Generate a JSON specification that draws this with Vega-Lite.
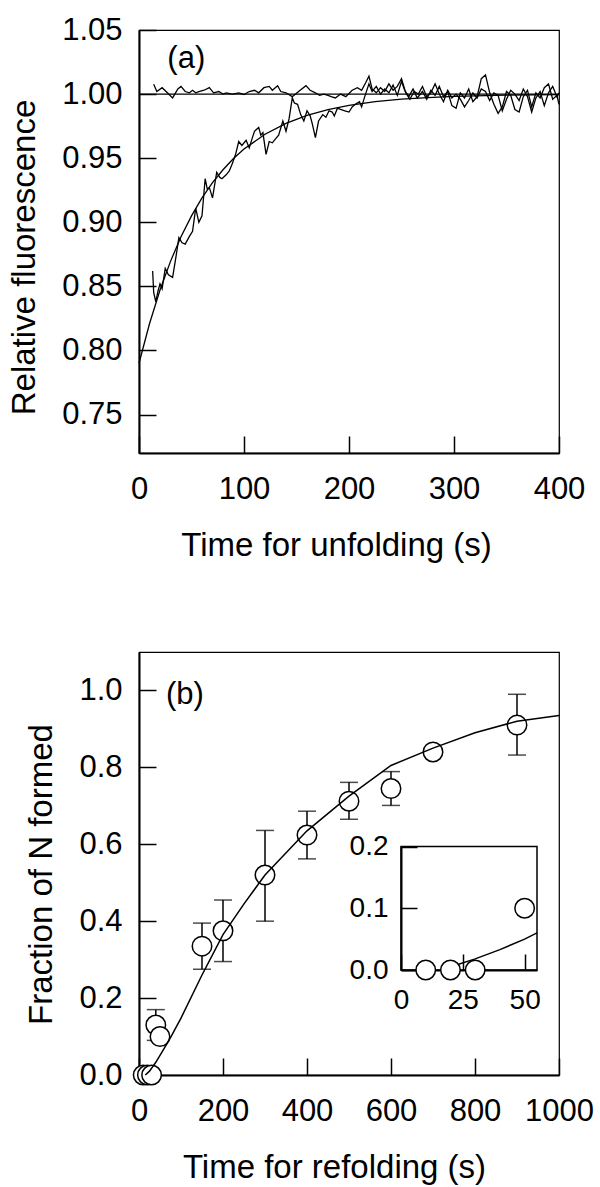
{
  "$schema": "https://vega.github.io/schema/vega-lite/v6.json",
  "background": "white",
  "padding": {"left": 8, "top": 13, "right": 1, "bottom": 5},
  "spacing": 88,
  "config": {
    "font": "Liberation Sans",
    "view": {"stroke": "black", "strokeWidth": 1.2},
    "axis": {
      "domainColor": "black", "domainWidth": 2, "tickColor": "black", "tickWidth": 1.5, "tickSize": -17,
      "labelFontSize": 31, "labelColor": "black", "labelFont": "Liberation Sans",
      "titleFontSize": 33, "titleFontWeight": "normal", "titleColor": "black", "titleFont": "Liberation Sans",
      "grid": false, "labelFlush": false, "labelOverlap": false
    },
    "axisX": {"labelPadding": 38, "titlePadding": 25},
    "axisY": {"labelPadding": 34, "titlePadding": 20}
  },
  "vconcat": [
    {
      "width": 420,
      "height": 423,
      "data": {"values": [
        {"t": 0, "f": 1.0, "s": "h"}, {"t": 400, "f": 1.0, "s": "h"},
        {"t": 0, "f": 0.79, "s": "e"}, {"t": 10, "f": 0.8208, "s": "e"}, {"t": 20, "f": 0.8471, "s": "e"}, {"t": 30, "f": 0.8695, "s": "e"}, {"t": 40, "f": 0.8887, "s": "e"}, {"t": 50, "f": 0.905, "s": "e"}, {"t": 60, "f": 0.919, "s": "e"}, {"t": 70, "f": 0.9309, "s": "e"}, {"t": 80, "f": 0.941, "s": "e"}, {"t": 90, "f": 0.9497, "s": "e"}, {"t": 100, "f": 0.9571, "s": "e"}, {"t": 120, "f": 0.9687, "s": "e"}, {"t": 140, "f": 0.9772, "s": "e"}, {"t": 160, "f": 0.9834, "s": "e"}, {"t": 180, "f": 0.9879, "s": "e"}, {"t": 200, "f": 0.9912, "s": "e"}, {"t": 225, "f": 0.9941, "s": "e"}, {"t": 250, "f": 0.996, "s": "e"}, {"t": 275, "f": 0.9973, "s": "e"}, {"t": 300, "f": 0.9982, "s": "e"}, {"t": 350, "f": 0.9992, "s": "e"}, {"t": 400, "f": 0.9996, "s": "e"},
        {"t": 14, "f": 1.0076, "s": "n"}, {"t": 17, "f": 1.002, "s": "n"}, {"t": 22, "f": 1.005, "s": "n"}, {"t": 27, "f": 1.001, "s": "n"}, {"t": 32, "f": 0.997, "s": "n"}, {"t": 37, "f": 1.004, "s": "n"}, {"t": 40, "f": 1.006, "s": "n"}, {"t": 44, "f": 1.002, "s": "n"}, {"t": 48, "f": 1.001, "s": "n"}, {"t": 51, "f": 1.003, "s": "n"}, {"t": 54, "f": 1.001, "s": "n"}, {"t": 57, "f": 1.002, "s": "n"}, {"t": 62, "f": 1.003, "s": "n"}, {"t": 67, "f": 1.005, "s": "n"}, {"t": 71, "f": 1.001, "s": "n"}, {"t": 76, "f": 1.002, "s": "n"}, {"t": 80, "f": 1.0, "s": "n"}, {"t": 83, "f": 1.001, "s": "n"}, {"t": 89, "f": 1.0, "s": "n"}, {"t": 95, "f": 1.001, "s": "n"}, {"t": 100, "f": 0.9997, "s": "n"}, {"t": 105, "f": 1.002, "s": "n"}, {"t": 110, "f": 1.003, "s": "n"}, {"t": 114, "f": 1.001, "s": "n"}, {"t": 119, "f": 1.005, "s": "n"}, {"t": 124, "f": 1.006, "s": "n"}, {"t": 127, "f": 1.003, "s": "n"}, {"t": 132, "f": 1.0065, "s": "n"}, {"t": 135, "f": 1.002, "s": "n"}, {"t": 140, "f": 1.001, "s": "n"}, {"t": 146, "f": 0.998, "s": "n"}, {"t": 152, "f": 1.002, "s": "n"}, {"t": 159, "f": 1.0066, "s": "n"}, {"t": 163, "f": 1.003, "s": "n"}, {"t": 168, "f": 1.001, "s": "n"}, {"t": 172, "f": 0.999, "s": "n"}, {"t": 176, "f": 1.0, "s": "n"}, {"t": 180, "f": 0.999, "s": "n"}, {"t": 183, "f": 0.998, "s": "n"}, {"t": 187, "f": 0.997, "s": "n"}, {"t": 192, "f": 1.0, "s": "n"}, {"t": 197, "f": 0.998, "s": "n"}, {"t": 203, "f": 1.003, "s": "n"}, {"t": 208, "f": 1.005, "s": "n"},
        {"t": 212, "f": 1.003, "s": "n"}, {"t": 216, "f": 1.009, "s": "n"}, {"t": 219, "f": 1.014, "s": "n"}, {"t": 222, "f": 1.004, "s": "n"}, {"t": 226, "f": 1.001, "s": "n"}, {"t": 230, "f": 1.005, "s": "n"}, {"t": 234, "f": 1.002, "s": "n"}, {"t": 238, "f": 1.008, "s": "n"}, {"t": 242, "f": 1.003, "s": "n"}, {"t": 246, "f": 1.006, "s": "n"}, {"t": 250, "f": 1.012, "s": "n"}, {"t": 254, "f": 1.001, "s": "n"}, {"t": 258, "f": 0.996, "s": "n"}, {"t": 262, "f": 1.002, "s": "n"}, {"t": 266, "f": 1.0, "s": "n"}, {"t": 270, "f": 1.006, "s": "n"}, {"t": 274, "f": 0.998, "s": "n"}, {"t": 278, "f": 1.001, "s": "n"}, {"t": 282, "f": 1.008, "s": "n"}, {"t": 286, "f": 1.0, "s": "n"}, {"t": 290, "f": 0.994, "s": "n"}, {"t": 294, "f": 1.003, "s": "n"}, {"t": 298, "f": 0.997, "s": "n"}, {"t": 302, "f": 1.0, "s": "n"}, {"t": 306, "f": 0.996, "s": "n"}, {"t": 310, "f": 0.99, "s": "n"}, {"t": 314, "f": 0.995, "s": "n"}, {"t": 318, "f": 1.001, "s": "n"}, {"t": 322, "f": 0.997, "s": "n"}, {"t": 326, "f": 1.004, "s": "n"}, {"t": 330, "f": 1.002, "s": "n"}, {"t": 334, "f": 0.995, "s": "n"}, {"t": 338, "f": 1.001, "s": "n"}, {"t": 342, "f": 0.999, "s": "n"}, {"t": 346, "f": 0.987, "s": "n"}, {"t": 350, "f": 0.996, "s": "n"}, {"t": 354, "f": 1.003, "s": "n"}, {"t": 358, "f": 1.0, "s": "n"}, {"t": 362, "f": 0.995, "s": "n"}, {"t": 366, "f": 1.004, "s": "n"}, {"t": 370, "f": 0.998, "s": "n"}, {"t": 374, "f": 0.986, "s": "n"}, {"t": 378, "f": 0.997, "s": "n"}, {"t": 382, "f": 1.002, "s": "n"}, {"t": 386, "f": 0.991, "s": "n"}, {"t": 390, "f": 1.001, "s": "n"}, {"t": 394, "f": 1.006, "s": "n"}, {"t": 398, "f": 0.998, "s": "n"}, {"t": 400, "f": 1.001, "s": "n"},
        {"t": 13, "f": 0.862, "s": "u"}, {"t": 14, "f": 0.845, "s": "u"}, {"t": 16, "f": 0.838, "s": "u"}, {"t": 18, "f": 0.846, "s": "u"}, {"t": 20, "f": 0.852, "s": "u"}, {"t": 22, "f": 0.848, "s": "u"}, {"t": 25, "f": 0.864, "s": "u"}, {"t": 28, "f": 0.859, "s": "u"}, {"t": 32, "f": 0.857, "s": "u"}, {"t": 35, "f": 0.872, "s": "u"}, {"t": 38, "f": 0.888, "s": "u"}, {"t": 41, "f": 0.884, "s": "u"}, {"t": 44, "f": 0.883, "s": "u"}, {"t": 48, "f": 0.889, "s": "u"}, {"t": 51, "f": 0.893, "s": "u"}, {"t": 54, "f": 0.911, "s": "u"}, {"t": 57, "f": 0.9, "s": "u"}, {"t": 60, "f": 0.905, "s": "u"}, {"t": 63, "f": 0.934, "s": "u"}, {"t": 65, "f": 0.926, "s": "u"}, {"t": 67, "f": 0.927, "s": "u"}, {"t": 70, "f": 0.919, "s": "u"}, {"t": 74, "f": 0.939, "s": "u"}, {"t": 77, "f": 0.935, "s": "u"}, {"t": 79, "f": 0.934, "s": "u"}, {"t": 83, "f": 0.937, "s": "u"}, {"t": 86, "f": 0.94, "s": "u"}, {"t": 89, "f": 0.946, "s": "u"}, {"t": 92, "f": 0.953, "s": "u"}, {"t": 95, "f": 0.963, "s": "u"}, {"t": 98, "f": 0.96, "s": "u"}, {"t": 102, "f": 0.964, "s": "u"}, {"t": 105, "f": 0.958, "s": "u"}, {"t": 108, "f": 0.966, "s": "u"}, {"t": 110, "f": 0.971, "s": "u"}, {"t": 114, "f": 0.974, "s": "u"}, {"t": 116, "f": 0.968, "s": "u"}, {"t": 118, "f": 0.97, "s": "u"}, {"t": 121, "f": 0.953, "s": "u"}, {"t": 124, "f": 0.963, "s": "u"}, {"t": 127, "f": 0.962, "s": "u"}, {"t": 130, "f": 0.965, "s": "u"}, {"t": 133, "f": 0.968, "s": "u"}, {"t": 137, "f": 0.979, "s": "u"}, {"t": 140, "f": 0.971, "s": "u"}, {"t": 143, "f": 0.981, "s": "u"}, {"t": 146, "f": 0.997, "s": "u"}, {"t": 148, "f": 0.993, "s": "u"}, {"t": 151, "f": 0.992, "s": "u"}, {"t": 154, "f": 0.984, "s": "u"}, {"t": 157, "f": 0.979, "s": "u"}, {"t": 160, "f": 0.987, "s": "u"}, {"t": 163, "f": 0.983, "s": "u"}, {"t": 165, "f": 0.977, "s": "u"}, {"t": 168, "f": 0.966, "s": "u"}, {"t": 171, "f": 0.979, "s": "u"}, {"t": 175, "f": 0.984, "s": "u"}, {"t": 178, "f": 0.982, "s": "u"}, {"t": 181, "f": 0.987, "s": "u"}, {"t": 184, "f": 0.986, "s": "u"}, {"t": 186, "f": 0.983, "s": "u"}, {"t": 189, "f": 0.989, "s": "u"}, {"t": 192, "f": 0.988, "s": "u"}, {"t": 196, "f": 0.987, "s": "u"}, {"t": 200, "f": 0.986, "s": "u"}, {"t": 203, "f": 0.99, "s": "u"}, {"t": 206, "f": 0.992, "s": "u"}, {"t": 210, "f": 0.994, "s": "u"}, {"t": 212, "f": 0.99, "s": "u"},
        {"t": 215, "f": 0.998, "s": "u"}, {"t": 219, "f": 1.008, "s": "u"}, {"t": 222, "f": 1.002, "s": "u"}, {"t": 226, "f": 1.006, "s": "u"}, {"t": 230, "f": 1.0, "s": "u"}, {"t": 234, "f": 1.004, "s": "u"}, {"t": 238, "f": 1.001, "s": "u"}, {"t": 242, "f": 1.007, "s": "u"}, {"t": 246, "f": 0.999, "s": "u"}, {"t": 250, "f": 1.01, "s": "u"}, {"t": 253, "f": 1.003, "s": "u"}, {"t": 257, "f": 0.998, "s": "u"}, {"t": 261, "f": 1.004, "s": "u"}, {"t": 265, "f": 0.997, "s": "u"}, {"t": 270, "f": 1.002, "s": "u"}, {"t": 274, "f": 0.996, "s": "u"}, {"t": 278, "f": 1.003, "s": "u"}, {"t": 282, "f": 0.999, "s": "u"}, {"t": 286, "f": 1.006, "s": "u"}, {"t": 290, "f": 0.998, "s": "u"}, {"t": 294, "f": 1.002, "s": "u"}, {"t": 298, "f": 0.991, "s": "u"}, {"t": 302, "f": 0.989, "s": "u"}, {"t": 306, "f": 1.001, "s": "u"}, {"t": 310, "f": 0.997, "s": "u"}, {"t": 314, "f": 1.004, "s": "u"}, {"t": 318, "f": 0.994, "s": "u"}, {"t": 322, "f": 0.998, "s": "u"}, {"t": 326, "f": 1.012, "s": "u"}, {"t": 330, "f": 1.015, "s": "u"}, {"t": 334, "f": 1.001, "s": "u"}, {"t": 338, "f": 0.992, "s": "u"}, {"t": 342, "f": 0.985, "s": "u"}, {"t": 346, "f": 0.99, "s": "u"}, {"t": 350, "f": 1.002, "s": "u"}, {"t": 354, "f": 0.999, "s": "u"}, {"t": 358, "f": 0.988, "s": "u"}, {"t": 362, "f": 0.986, "s": "u"}, {"t": 366, "f": 0.998, "s": "u"}, {"t": 370, "f": 1.003, "s": "u"}, {"t": 374, "f": 0.99, "s": "u"}, {"t": 378, "f": 1.001, "s": "u"}, {"t": 382, "f": 0.997, "s": "u"}, {"t": 386, "f": 1.005, "s": "u"}, {"t": 390, "f": 1.008, "s": "u"}, {"t": 394, "f": 0.996, "s": "u"}, {"t": 398, "f": 0.999, "s": "u"}, {"t": 400, "f": 0.992, "s": "u"}
      ]},
      "layer": [
        {
          "mark": {"type": "line", "color": "black", "strokeWidth": 1.3},
          "encoding": {
            "x": {"field": "t", "type": "quantitative", "scale": {"domain": [0, 400], "nice": false},
              "axis": {"title": "Time for unfolding (s)", "values": [0, 100, 200, 300, 400], "titleX": 197}},
            "y": {"field": "f", "type": "quantitative", "scale": {"domain": [0.72, 1.05], "nice": false, "zero": false},
              "axis": {"title": "Relative fluorescence", "values": [0.75, 0.8, 0.85, 0.9, 0.95, 1.0, 1.05], "format": ".2f", "titleY": 227}},
            "detail": {"field": "s", "type": "nominal"}
          }
        },
        {
          "data": {"values": [{"label": "(a)"}]},
          "mark": {"type": "text", "fontSize": 31, "align": "left", "baseline": "middle", "font": "Liberation Sans", "color": "black"},
          "encoding": {
            "x": {"datum": 27, "type": "quantitative"},
            "y": {"datum": 1.027, "type": "quantitative"},
            "text": {"field": "label"}
          }
        }
      ]
    },
    {
      "width": 420,
      "height": 423,
      "layer": [
        {
          "layer": [
            {
              "data": {"name": "pts"},
              "mark": {"type": "rule", "color": "black", "strokeWidth": 1.5},
              "encoding": {
                "x": {"field": "t", "type": "quantitative", "scale": {"domain": [0, 1000], "nice": false},
                  "axis": {"title": "Time for refolding (s)", "values": [0, 200, 400, 600, 800, 1000], "format": "d", "titleX": 195}},
                "y": {"field": "lo", "type": "quantitative", "scale": {"domain": [0, 1.1], "nice": false},
                  "axis": {"title": "Fraction of N formed", "values": [0, 0.2, 0.4, 0.6, 0.8, 1.0], "format": ".1f", "titleY": 222}},
                "y2": {"field": "hi"}
              }
            },
            {
              "data": {"name": "pts"},
              "mark": {"type": "tick", "orient": "horizontal", "color": "black", "size": 18, "thickness": 1.5},
              "encoding": {
                "x": {"field": "t", "type": "quantitative"},
                "y": {"field": "hi", "type": "quantitative"}
              }
            },
            {
              "data": {"name": "pts"},
              "mark": {"type": "tick", "orient": "horizontal", "color": "black", "size": 18, "thickness": 1.5},
              "encoding": {
                "x": {"field": "t", "type": "quantitative"},
                "y": {"field": "lo", "type": "quantitative"}
              }
            },
            {
              "data": {"name": "pts"},
              "mark": {"type": "point", "shape": "circle", "filled": true, "fill": "white", "stroke": "black", "strokeWidth": 1.5, "size": 380, "opacity": 1},
              "encoding": {
                "x": {"field": "t", "type": "quantitative"},
                "y": {"field": "v", "type": "quantitative"}
              }
            },
            {
              "data": {"name": "fit"},
              "mark": {"type": "line", "color": "black", "strokeWidth": 1.5},
              "encoding": {
                "x": {"field": "t", "type": "quantitative"},
                "y": {"field": "v", "type": "quantitative"}
              }
            },
            {
              "data": {"values": [{"label": "(b)"}]},
              "mark": {"type": "text", "fontSize": 31, "align": "left", "baseline": "middle", "font": "Liberation Sans", "color": "black"},
              "encoding": {
                "x": {"datum": 64, "type": "quantitative"},
                "y": {"datum": 0.987, "type": "quantitative"},
                "text": {"field": "label"}
              }
            }
          ]
        },
        {
          "layer": [
            {
              "data": {"values": [{"label": "frame"}]},
              "mark": {"type": "rect", "filled": false, "stroke": "black", "strokeWidth": 1.5},
              "encoding": {
                "x": {"datum": 0, "type": "quantitative", "scale": {"domain": [0, 55], "range": [262, 398], "nice": false},
                  "axis": {"orient": "bottom", "offset": -105, "values": [0, 25, 50], "title": null, "labelFontSize": 28, "tickSize": -16, "labelPadding": 32}},
                "x2": {"datum": 55},
                "y": {"datum": 0, "type": "quantitative", "scale": {"domain": [0, 0.2], "range": [318, 194.5], "nice": false},
                  "axis": {"orient": "left", "offset": -262, "values": [0, 0.1, 0.2], "format": ".1f", "title": null, "labelFontSize": 28, "tickSize": -16, "labelPadding": 29}},
                "y2": {"datum": 0.2}
              }
            },
            {
              "data": {"name": "insetfit"},
              "mark": {"type": "line", "color": "black", "strokeWidth": 1.5},
              "encoding": {
                "x": {"field": "t", "type": "quantitative"},
                "y": {"field": "v", "type": "quantitative"}
              }
            },
            {
              "data": {"name": "insetpts"},
              "mark": {"type": "point", "shape": "circle", "filled": true, "fill": "white", "stroke": "black", "strokeWidth": 1.5, "size": 380, "opacity": 1},
              "encoding": {
                "x": {"field": "t", "type": "quantitative"},
                "y": {"field": "v", "type": "quantitative"}
              }
            }
          ]
        }
      ],
      "resolve": {"scale": {"x": "independent", "y": "independent"}, "axis": {"x": "independent", "y": "independent"}}
    }
  ],
  "datasets": {
    "pts": [
      {"t": 10, "v": 0.0, "lo": null, "hi": null},
      {"t": 20, "v": 0.0, "lo": null, "hi": null},
      {"t": 30, "v": 0.0, "lo": null, "hi": null},
      {"t": 40, "v": 0.13, "lo": 0.09, "hi": 0.17},
      {"t": 50, "v": 0.10, "lo": null, "hi": null},
      {"t": 150, "v": 0.335, "lo": 0.275, "hi": 0.395},
      {"t": 200, "v": 0.375, "lo": 0.295, "hi": 0.455},
      {"t": 300, "v": 0.52, "lo": 0.40, "hi": 0.636},
      {"t": 400, "v": 0.624, "lo": 0.562, "hi": 0.686},
      {"t": 500, "v": 0.712, "lo": 0.665, "hi": 0.761},
      {"t": 600, "v": 0.745, "lo": 0.701, "hi": 0.789},
      {"t": 700, "v": 0.84, "lo": null, "hi": null},
      {"t": 900, "v": 0.91, "lo": 0.832, "hi": 0.99}
    ],
    "fit": [
      {"t": 15, "v": 0.0}, {"t": 25, "v": 0.01}, {"t": 40, "v": 0.033}, {"t": 55, "v": 0.06}, {"t": 75, "v": 0.097}, {"t": 100, "v": 0.148}, {"t": 150, "v": 0.26}, {"t": 200, "v": 0.365}, {"t": 250, "v": 0.445}, {"t": 300, "v": 0.52}, {"t": 400, "v": 0.635}, {"t": 500, "v": 0.725}, {"t": 600, "v": 0.805}, {"t": 700, "v": 0.85}, {"t": 800, "v": 0.89}, {"t": 900, "v": 0.92}, {"t": 1000, "v": 0.935}
    ],
    "insetfit": [
      {"t": 23, "v": 0.009}, {"t": 30, "v": 0.018}, {"t": 40, "v": 0.033}, {"t": 50, "v": 0.05}, {"t": 55, "v": 0.06}
    ],
    "insetpts": [
      {"t": 10, "v": 0.0}, {"t": 20, "v": 0.0}, {"t": 30, "v": 0.0}, {"t": 50, "v": 0.1}
    ]
  }
}
